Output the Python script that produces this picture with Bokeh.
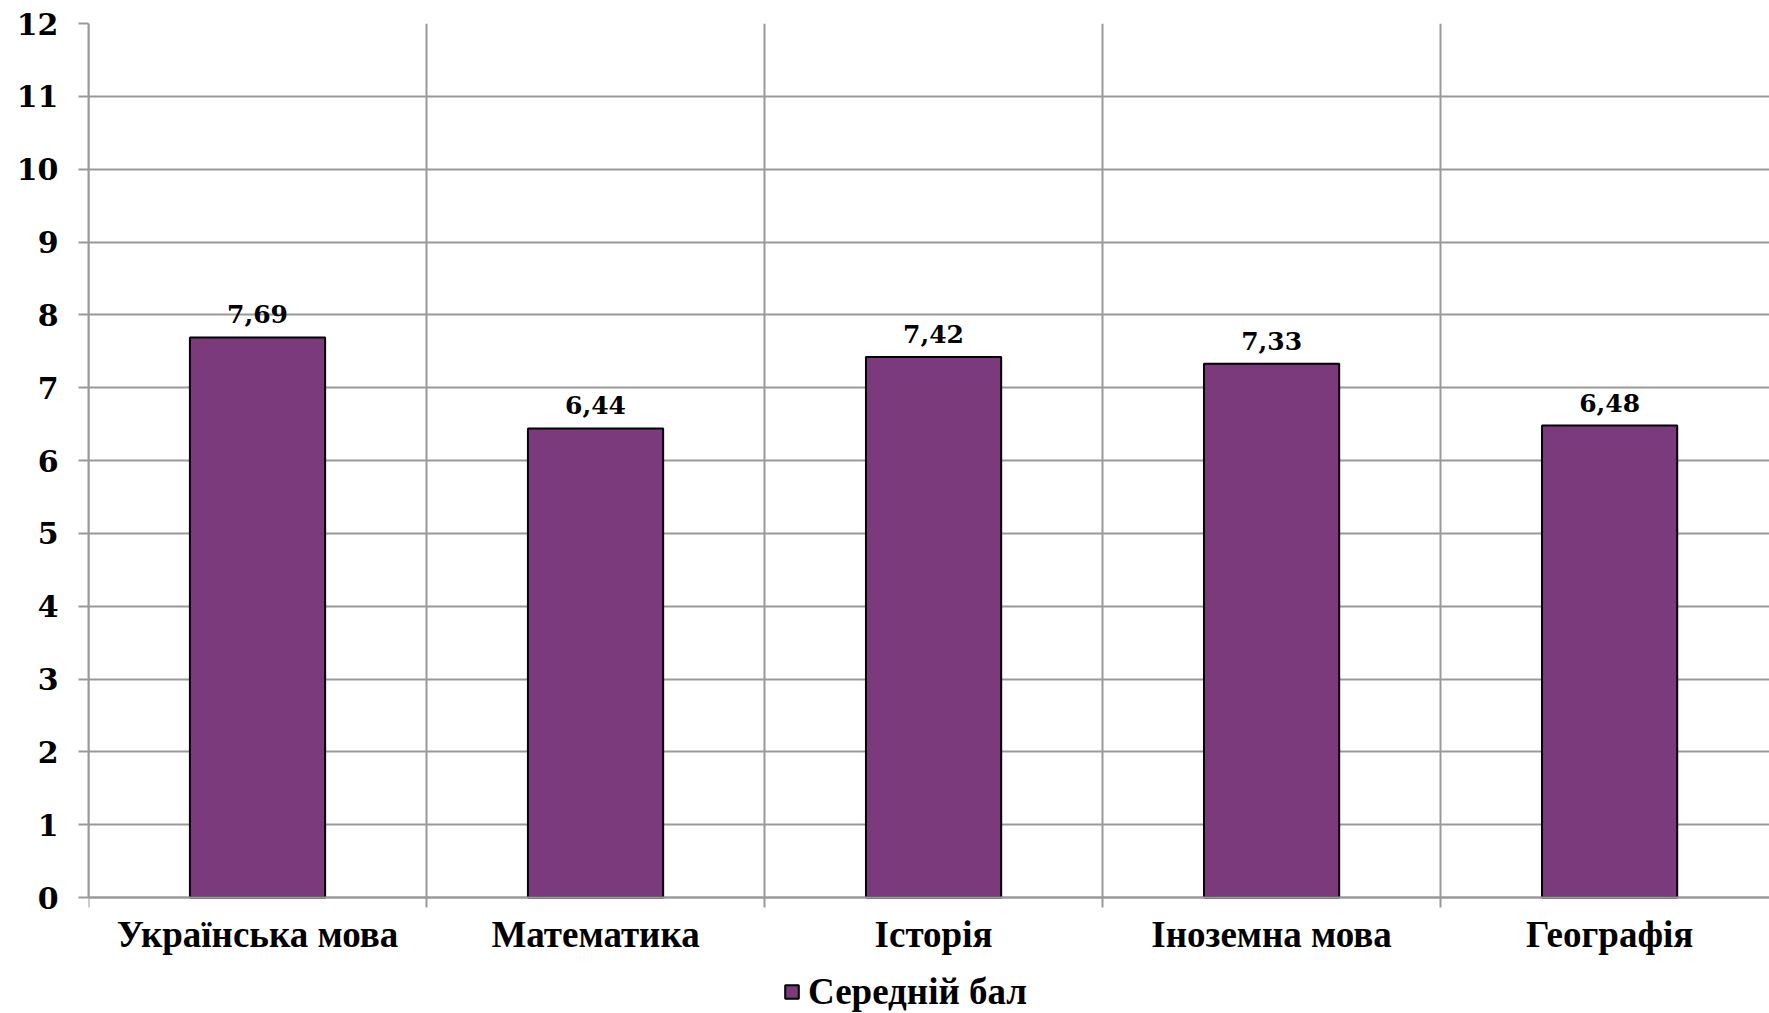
from bokeh.plotting import figure
from bokeh.models import Range1d, FixedTicker, Legend, LegendItem, ColumnDataSource
from bokeh.core.properties import value
from bokeh.embed import file_html
from bokeh.resources import INLINE

categories = ["Українська мова", "Математика", "Історія", "Іноземна мова", "Географія"]
scores = [7.69, 6.44, 7.42, 7.33, 6.48]
series_name = "Середній бал"
y_ticks = list(range(0, 13))

xs = [i + 0.5 for i in range(len(categories))]
boundaries = list(range(len(categories) + 1))
labels = [f"{v:.2f}".replace(".", ",") for v in scores]
src = ColumnDataSource(dict(x=xs, top=scores, label=labels))

GRID = "#999999"
BAR = "#7A3A7C"

# frame: value 12 at y=23px, value 0 at y=897px, frame continues to the bottom edge
# so that the x-axis labels and the legend sit inside it
px_per_unit = (897 - 23) / 12
y_bottom = -(1013 - 897) / px_per_unit

p = figure(width=1769, height=1013, output_backend="svg", toolbar_location=None,
           x_range=Range1d(0, 4.973), y_range=Range1d(y_bottom, 12),
           min_border_left=88, min_border_right=0, min_border_top=23, min_border_bottom=0)
p.outline_line_color = None
p.background_fill_color = "white"

bars = p.vbar(x="x", top="top", bottom=0, width=0.4, source=src,
              fill_color=BAR, line_color="black", line_width=2)

p.text(x="x", y="top", text="label", source=src, text_align="center",
       text_baseline="alphabetic", y_offset=-23,
       text_font=value("DejaVu Serif"), text_font_style="bold",
       text_font_size="25px", text_color="black")

# y axis
p.yaxis.ticker = FixedTicker(ticks=y_ticks)
p.yaxis.bounds = (0, 12)
p.yaxis.axis_line_color = GRID
p.yaxis.axis_line_width = 2
p.yaxis.major_tick_line_color = GRID
p.yaxis.major_tick_line_width = 2
p.yaxis.major_tick_out = 10
p.yaxis.major_tick_in = 0
p.yaxis.minor_tick_line_color = None
p.yaxis.major_label_standoff = 20
p.yaxis.major_label_text_font = "DejaVu Serif"
p.yaxis.major_label_text_font_style = "bold"
p.yaxis.major_label_text_font_size = "30px"
p.yaxis.major_label_text_color = "black"

# x axis at value 0: labels at category centres; category boundary lines are the
# minor ticks, running 10px below the axis and up to the top of the value range
p.xaxis.fixed_location = 0
p.xaxis.ticker = FixedTicker(ticks=xs, minor_ticks=boundaries)
p.xaxis.major_label_overrides = {x: c for x, c in zip(xs, categories)}
p.xaxis.axis_line_color = GRID
p.xaxis.axis_line_width = 2
p.xaxis.major_tick_line_color = None
p.xaxis.major_tick_out = 0
p.xaxis.major_tick_in = 0
p.xaxis.minor_tick_line_color = GRID
p.xaxis.minor_tick_line_width = 2
p.xaxis.minor_tick_out = 10
p.xaxis.minor_tick_in = int(round(12 * px_per_unit))
p.xaxis.major_label_standoff = 6
p.xaxis.major_label_text_font = "Liberation Serif"
p.xaxis.major_label_text_font_style = "bold"
p.xaxis.major_label_text_font_size = "37px"
p.xaxis.major_label_text_color = "black"

p.xgrid.grid_line_color = None
p.ygrid.ticker = FixedTicker(ticks=y_ticks)
p.ygrid.grid_line_color = GRID
p.ygrid.grid_line_width = 2

legend = Legend(items=[LegendItem(label=series_name, renderers=[bars])],
                location=(695, 0), orientation="horizontal",
                border_line_color=None, background_fill_alpha=0,
                padding=0, margin=0, glyph_width=17, glyph_height=17,
                label_standoff=8, label_text_font="Liberation Serif",
                label_text_font_style="bold", label_text_font_size="37px",
                label_text_color="black")
p.add_layout(legend, "center")

open("out.html", "w").write(file_html(p, INLINE))
